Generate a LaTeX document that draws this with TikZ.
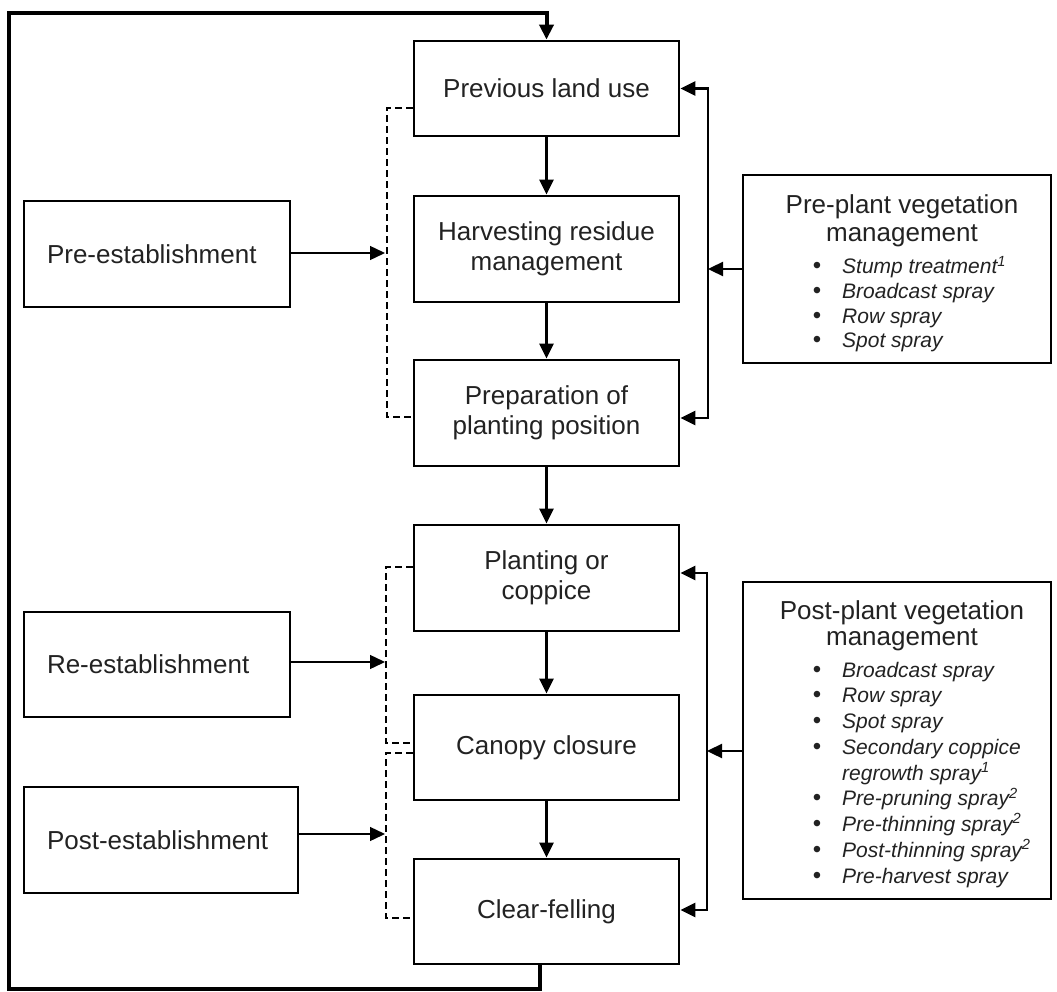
\documentclass[tikz,border=0pt]{standalone}
\usepackage{fontspec}
\setmainfont{Liberation Sans}
\usetikzlibrary{arrows.meta}
\definecolor{txt}{HTML}{222222}
\tikzset{
  >={Triangle[length=15pt,width=14pt]},
  box/.style={draw, line width=2.8pt, inner sep=0pt, align=center, text=txt,
    font=\fontsize{26}{30}\selectfont, minimum width=265pt},
  lbox/.style={draw, line width=2.8pt, inner xsep=23pt, inner ysep=0pt, align=left,
    text=txt, font=\fontsize{26}{30}\selectfont},
  rbox/.style={draw, line width=2.8pt, inner sep=0pt, minimum width=308pt},
  ttl/.style={text=txt, font=\fontsize{26}{30}\selectfont, anchor=base, inner sep=0pt},
  itm/.style={text=txt, font=\fontsize{21}{25}\selectfont\itshape, anchor=base west, inner sep=0pt},
  bul/.style={text=txt, font=\fontsize{24}{25}\selectfont, anchor=base, inner sep=0pt},
  flowline/.style={line width=2.7pt, ->},
  sideline/.style={line width=2.4pt},
  feedline/.style={line width=1.4pt, ->},
  brk/.style={line width=2.2pt, dash pattern=on 7pt off 4pt},
  loopline/.style={line width=4pt, line join=miter, ->}
}
\begin{document}
\begin{tikzpicture}[x=1pt,y=-1pt]
\useasboundingbox (0,0) rectangle (1057,992);

% central chain
\node[box, minimum height=95pt]  (b1) at (546.5,88.5)  {Previous land use};
\node[box, minimum height=106pt] (b2) at (546.5,249)   {Harvesting residue\\management};
\node[box, minimum height=106pt] (b3) at (546.5,413)   {Preparation of\\planting position};
\node[box, minimum height=106pt] (b4) at (546.5,578)   {Planting or\\coppice};
\node[box, minimum height=105pt] (b5) at (546.5,747.5) {Canopy closure};
\node[box, minimum height=105pt] (b6) at (546.5,911.5) {Clear-felling};

% left phase boxes
\node[lbox, text width=220pt, minimum height=106pt] (pre)  at (157,254)   {Pre-establishment};
\node[lbox, text width=220pt, minimum height=105pt] (re)   at (157,664.5) {Re-establishment};
\node[lbox, text width=228pt, minimum height=106pt] (post) at (161,840)   {Post-establishment};

% right management boxes
\node[rbox, minimum height=188pt] (ppre)  at (897,269)   {};
\node[rbox, minimum height=317pt] (ppost) at (897,740.5) {};

\node[ttl] (prt1) at (902,214) {Pre-plant vegetation};
\node[ttl] (prt2) at (902,242) {management};
\node[bul] (prb1) at (817,274)   {•}; \node[itm] (pri1) at (842,274)   {Stump treatment\textsuperscript{1}};
\node[bul] (prb2) at (817,298.5) {•}; \node[itm] (pri2) at (842,298.5) {Broadcast spray};
\node[bul] (prb3) at (817,323)   {•}; \node[itm] (pri3) at (842,323)   {Row spray};
\node[bul] (prb4) at (817,347.5) {•}; \node[itm] (pri4) at (842,347.5) {Spot spray};

\node[ttl] (pot1) at (902,619) {Post-plant vegetation};
\node[ttl] (pot2) at (902,645) {management};
\node[bul] (pob1) at (817,677)    {•}; \node[itm] (poi1) at (842,677)    {Broadcast spray};
\node[bul] (pob2) at (817,702.75) {•}; \node[itm] (poi2) at (842,702.75) {Row spray};
\node[bul] (pob3) at (817,728.5)  {•}; \node[itm] (poi3) at (842,728.5)  {Spot spray};
\node[bul] (pob4) at (817,754.25) {•}; \node[itm] (poi4) at (842,754.25) {Secondary coppice};
                                       \node[itm] (poi5) at (842,780)    {regrowth spray\textsuperscript{1}};
\node[bul] (pob6) at (817,805.75) {•}; \node[itm] (poi6) at (842,805.75) {Pre-pruning spray\textsuperscript{2}};
\node[bul] (pob7) at (817,831.5)  {•}; \node[itm] (poi7) at (842,831.5)  {Pre-thinning spray\textsuperscript{2}};
\node[bul] (pob8) at (817,857.25) {•}; \node[itm] (poi8) at (842,857.25) {Post-thinning spray\textsuperscript{2}};
\node[bul] (pob9) at (817,883)    {•}; \node[itm] (poi9) at (842,883)    {Pre-harvest spray};

% chain arrows
\draw[flowline] (b1) -- (b2);
\draw[flowline] (b2) -- (b3);
\draw[flowline] (b3) -- (b4);
\draw[flowline] (b4) -- (b5);
\draw[flowline] (b5) -- (b6);

% right connectors
\coordinate (rt1) at (708,88.5);
\coordinate (rb1) at (708,418);
\coordinate (rj1) at (708,269);
\draw[sideline, <->] (b1.east) -- (rt1) -- (rb1) -- (b3.east |- rb1);
\draw[sideline, ->] (ppre.west) -- (rj1);

\coordinate (rt2) at (707,573);
\coordinate (rb2) at (707,910);
\coordinate (rj2) at (707,751);
\draw[sideline, <->] (b4.east |- rt2) -- (rt2) -- (rb2) -- (b6.east |- rb2);
\draw[sideline, ->] (ppost.west |- rj2) -- (rj2);

% dashed brackets
\coordinate (k1a) at (387,108);
\coordinate (k1b) at (387,417);
\draw[brk] (b1.west |- k1a) -- (k1a) -- (k1b) -- (b3.west |- k1b);
\coordinate (k2a) at (386,567);
\coordinate (k2b) at (386,743);
\draw[brk] (b4.west |- k2a) -- (k2a) -- (k2b) -- (b5.west |- k2b);
\coordinate (k3a) at (386,753);
\coordinate (k3b) at (386,918);
\draw[brk] (b5.west |- k3a) -- (k3a) -- (k3b) -- (b6.west |- k3b);

% phase arrows
\coordinate (d1) at (385,253);
\coordinate (d2) at (385,662);
\coordinate (d3) at (385,834);
\draw[feedline] (pre.east |- d1) -- (d1);
\draw[feedline] (re.east |- d2) -- (d2);
\draw[feedline] (post.east |- d3) -- (d3);

% feedback loop
\coordinate (l1) at (540,989);
\coordinate (l2) at (9,989);
\coordinate (l3) at (9,13);
\coordinate (l4) at (546.5,13);
\draw[loopline] (b6.south -| l1) -- (l1) -- (l2) -- (l3) -- (l4) -- (b1.north);
\end{tikzpicture}
\end{document}
